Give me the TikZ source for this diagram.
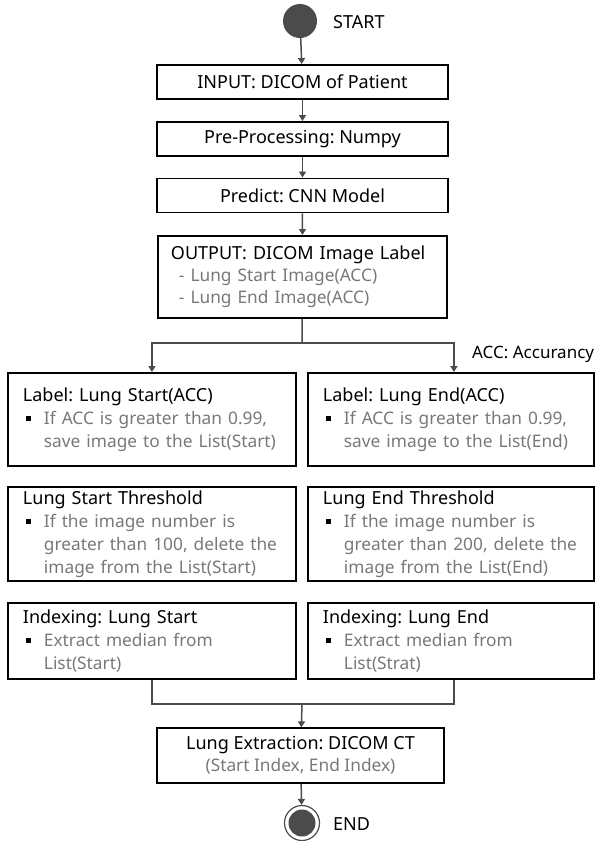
\documentclass[tikz,border=0pt]{standalone}
\usepackage{fontspec}
\setmainfont{Noto Sans}
\usepackage{tikz}
\usetikzlibrary{arrows.meta,calc,positioning}
\usepackage{xcolor}
\definecolor{flowgray}{RGB}{75,75,75}
\definecolor{subgray}{RGB}{120,120,120}
\frenchspacing
\newcommand{\sqbullet}{\makebox[21pt][l]{\hspace{3pt}\rule[3pt]{5pt}{5pt}}}
\newcommand{\subtxt}[1]{{\color{subgray}\fontsize{17.3}{23}\selectfont#1}}

\tikzset{
  flowbox/.style={draw=black,line width=1.9pt,minimum width=291pt,minimum height=34pt,inner sep=0pt},
  sidebox/.style={draw=black,line width=1.9pt,align=left,inner xsep=15pt,inner ysep=0pt,text width=258pt},
  flowline/.style={flowgray,line width=1.5pt},
  flowarrow/.style={flowline,-{Triangle[length=6pt,width=7pt]}},
}

\begin{document}
\begin{tikzpicture}[x=1pt,y=-1pt,font=\fontsize{18}{23}\selectfont]
  \useasboundingbox (0,0) rectangle (595,841);

  % start
  \node[circle,fill=flowgray,minimum size=34pt,inner sep=0pt] (start) at (300,21) {};
  \node[anchor=west,inner sep=0pt] (starttxt) at (333,22) {START};

  % main column
  \node[flowbox] (input) at (302.5,82) {INPUT: DICOM of Patient};
  \node[flowbox] (prep) at (302.5,139) {Pre-Processing: Numpy};
  \node[flowbox] (pred) at (302.5,195.5) {Predict: CNN Model};
  \node[draw=black,line width=1.9pt,anchor=north west,align=left,inner xsep=13pt,inner ysep=0pt,
        text width=263pt,minimum height=82pt] (output) at (157,235)
    {OUTPUT: DICOM Image Label\\[-1pt]
     \subtxt{\hspace*{8pt}- Lung Start Image(ACC)}\\[-1pt]
     \subtxt{\hspace*{8pt}- Lung End Image(ACC)}};

  \draw[flowarrow] (start) -- (input);
  \draw[flowarrow] (input) -- (prep);
  \draw[flowarrow] (prep) -- (pred);
  \draw[flowarrow] (pred) -- (output);

  % branch
  \coordinate (split) at (302,343);
  \node[sidebox,anchor=north west,minimum height=93pt] (labstart) at (7,372)
    {Label: Lung Start(ACC)\\
     \sqbullet\subtxt{If ACC is greater than 0.99,}\\
     \hspace*{21pt}\subtxt{save image to the List(Start)}};
  \node[sidebox,anchor=north west,minimum height=93pt,text width=256pt] (labend) at (307,372)
    {Label: Lung End(ACC)\\
     \sqbullet\subtxt{If ACC is greater than 0.99,}\\
     \hspace*{21pt}\subtxt{save image to the List(End)}};
  \node[anchor=base west,inner sep=0pt,font=\fontsize{17}{20}\selectfont] (acc) at (472,358) {ACC: Accurancy};

  \draw[flowline] (output) -- (split);
  \draw[flowarrow] (split) -| (labstart);
  \draw[flowarrow] (split) -| ($(labend.north)+(3,0)$);

  \node[sidebox,anchor=north west,minimum height=94pt] (thrstart) at (7,486)
    {Lung Start Threshold\\
     \sqbullet\subtxt{If the image number is}\\
     \hspace*{21pt}\subtxt{greater than 100, delete the}\\
     \hspace*{21pt}\subtxt{image from the List(Start)}};
  \node[sidebox,anchor=north west,minimum height=94pt,text width=256pt] (thrend) at (307,486)
    {Lung End Threshold\\
     \sqbullet\subtxt{If the image number is}\\
     \hspace*{21pt}\subtxt{greater than 200, delete the}\\
     \hspace*{21pt}\subtxt{image from the List(End)}};

  \node[sidebox,anchor=north west,minimum height=76pt] (idxstart) at (7,602)
    {Indexing: Lung Start\\
     \sqbullet\subtxt{Extract median from}\\
     \hspace*{21pt}\subtxt{List(Start)}};
  \node[sidebox,anchor=north west,minimum height=76pt,text width=256pt] (idxend) at (307,602)
    {Indexing: Lung End\\
     \sqbullet\subtxt{Extract median from}\\
     \hspace*{21pt}\subtxt{List(Strat)}};

  % merge
  \coordinate (merge) at (302,704);
  \node[draw=black,line width=1.2pt,align=center,minimum width=287pt,minimum height=55pt,inner sep=0pt]
    (extract) at (300.5,755.5)
    {Lung Extraction: DICOM CT\\[-1pt]\subtxt{(Start Index, End Index)}};
  \draw[flowline] (idxstart.south) |- (merge) -| ($(idxend.south)+(3,0)$);
  \draw[flowarrow] (merge) -- (extract);

  % end
  \node[circle,draw=flowgray,line width=1.2pt,minimum size=35pt,inner sep=0pt] (stop) at (302,823) {};
  \node[circle,fill=flowgray,minimum size=27pt,inner sep=0pt] (stopdot) at (stop) {};
  \node[anchor=west,inner sep=0pt] (endtxt) at (333,824) {END};
  \draw[flowarrow] (extract) -- (stop);
\end{tikzpicture}
\end{document}
